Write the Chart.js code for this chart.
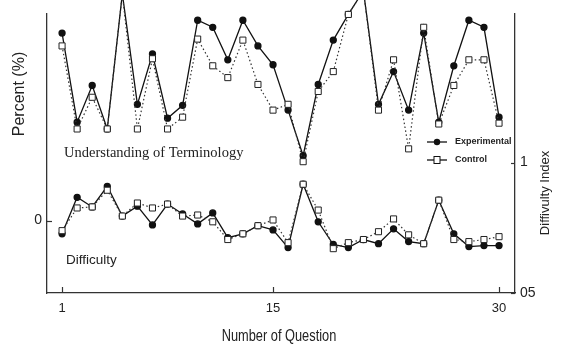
<!DOCTYPE html>
<html>
<head>
<meta charset="utf-8">
<script src="https://cdn.jsdelivr.net/npm/chart.js@4/dist/chart.umd.min.js"></script>
<style>
  body { margin: 0; background: #fff; }
  canvas { display: block; }
</style>
</head>
<body>
<canvas id="chart" width="561" height="345"></canvas>
<script>
"use strict"

// question numbers 1..30
const questions = [1, 2, 3, 4, 5, 6, 7, 8, 9, 10, 11, 12, 13, 14, 15,
  16, 17, 18, 19, 20, 21, 22, 23, 24, 25, 26, 27, 28, 29, 30];

// Understanding of Terminology, percent (left axis)
const termExperimental = [90.5, 47.5, 65.2, 44.2, 109.5, 56.1, 80.4, 49.4, 55.6, 96.7,
  93.3, 77.6, 96.7, 84.3, 75.2, 53.3, 31.3, 65.7, 87.1, 99.5,
  111.0, 56.1, 71.9, 53.3, 90.5, 47.5, 74.7, 96.7, 93.3, 49.9];
const termControl = [84.3, 44.2, 59.5, 44.2, 109.5, 44.2, 78.1, 44.2, 49.9, 87.6,
  74.7, 69.0, 87.1, 65.7, 53.3, 56.1, 28.4, 62.3, 71.9, 99.5,
  111.0, 53.3, 77.6, 34.6, 93.3, 46.6, 65.2, 77.6, 77.6, 47.0];

// Difficulty index (right axis)
const diffExperimental = [0.727, 0.867, 0.830, 0.909, 0.795, 0.833, 0.761, 0.841, 0.803, 0.765,
  0.807, 0.712, 0.727, 0.758, 0.742, 0.674, 0.917, 0.773, 0.686, 0.674,
  0.705, 0.689, 0.746, 0.697, 0.689, 0.856, 0.727, 0.678, 0.682, 0.682];
const diffControl = [0.739, 0.826, 0.830, 0.894, 0.795, 0.845, 0.826, 0.841, 0.795, 0.799,
  0.773, 0.705, 0.727, 0.758, 0.780, 0.693, 0.917, 0.818, 0.670, 0.693,
  0.705, 0.735, 0.784, 0.723, 0.689, 0.856, 0.705, 0.697, 0.705, 0.716];

// tick labels
const xTicks = [1, 15, 30];
const leftTicks = [0];
const rightTicks = [0.5, 1];

const pts = arr => questions.map((q, i) => ({ x: q, y: arr[i] }));

const solid = { borderColor: "#111", borderWidth: 1.3, pointStyle: "circle",
  pointRadius: 3, pointBackgroundColor: "#111", pointBorderColor: "#111", clip: false };
const dotted = { borderColor: "#333", borderWidth: 1.2, borderDash: [1.5, 2.5], pointStyle: "rect",
  pointRadius: 4.3, pointBackgroundColor: "#fff", pointBorderColor: "#222", pointBorderWidth: 1, clip: false };

const data = {
  datasets: [
    { label: "Control", data: pts(termControl), yAxisID: "y", ...dotted },
    { label: "Experimental", data: pts(termExperimental), yAxisID: "y", ...solid },
    { label: "Control difficulty", data: pts(diffControl), yAxisID: "y1", ...dotted },
    { label: "Experimental difficulty", data: pts(diffExperimental), yAxisID: "y1", ...solid },
  ]
};

const sans = "'Liberation Sans', Arial, sans-serif";

// tick marks pointing inward, texts, legend
const overlay = {
  id: "overlay",
  afterDraw(chart) {
    const { ctx, chartArea: a, scales } = chart;
    ctx.save();
    ctx.strokeStyle = "#333";
    ctx.lineWidth = 1.2;
    ctx.setLineDash([]);
    const line = (x1, y1, x2, y2) => { ctx.beginPath(); ctx.moveTo(x1, y1); ctx.lineTo(x2, y2); ctx.stroke(); };
    xTicks.forEach(v => { const px = Math.round(scales.x.getPixelForValue(v)) + 0.5; line(px, a.bottom, px, a.bottom - 6); });
    leftTicks.forEach(v => { const py = Math.round(scales.y.getPixelForValue(v)) + 0.5; line(a.left, py, a.left + 5, py); });
    rightTicks.forEach(v => { const py = Math.round(scales.y1.getPixelForValue(v)) + 0.5; line(a.right, py, a.right - 4, py); });

    ctx.fillStyle = "#222";
    ctx.textBaseline = "middle";
    ctx.textAlign = "center";
    // axis titles
    ctx.font = "16px " + sans;
    ctx.save(); ctx.translate(20, 94); ctx.rotate(-Math.PI / 2); ctx.fillText("Percent (%)", 0, 0); ctx.restore();
    ctx.font = "13px " + sans;
    ctx.save(); ctx.translate(545, 193); ctx.rotate(-Math.PI / 2); ctx.fillText("Diffivulty Index", 0, 0); ctx.restore();
    ctx.font = "16px " + sans;
    ctx.save(); ctx.translate(279, 337); ctx.scale(0.8, 1); ctx.fillText("Number of Question", 0, 0); ctx.restore();

    // group labels
    ctx.textAlign = "left";
    ctx.font = "14.5px 'Liberation Serif', 'Times New Roman', serif";
    ctx.fillText("Understanding of Terminology", 64, 153);
    ctx.font = "13.5px " + sans;
    ctx.fillText("Difficulty", 66, 260);

    // legend
    const lx = 427, ly = 142;
    ctx.strokeStyle = "#111";
    ctx.lineWidth = 1.3;
    line(lx, ly, lx + 20, ly);
    ctx.beginPath(); ctx.arc(lx + 10, ly, 3.2, 0, Math.PI * 2); ctx.fillStyle = "#111"; ctx.fill();
    line(lx, ly + 18, lx + 20, ly + 18);
    ctx.fillStyle = "#fff"; ctx.fillRect(lx + 7, ly + 14.5, 6, 7);
    ctx.lineWidth = 1; ctx.strokeRect(lx + 7, ly + 14.5, 6, 7);
    ctx.fillStyle = "#222";
    ctx.font = "bold 9px " + sans;
    ctx.fillText("Experimental", lx + 28, ly);
    ctx.fillText("Control", lx + 28, ly + 18);
    ctx.restore();
  }
};

const config = {
  type: "line",
  data: data,
  options: {
    responsive: false,
    animation: false,
    layout: { padding: { top: 10, left: 0, right: 0, bottom: 0 } },
    plugins: { legend: { display: false }, tooltip: { enabled: false } },
    scales: {
      x: {
        type: "linear", min: 0, max: 31.06,
        afterBuildTicks: s => { s.ticks = xTicks.map(v => ({ value: v })); },
        afterFit: s => { s.height = 52; },
        grid: { display: false, drawTicks: false },
        border: { display: true, color: "#333", width: 1.3 },
        ticks: { padding: 8, color: "#222", font: { family: sans, size: 13 } }
      },
      y: {
        position: "left", min: -35, max: 100,
        afterBuildTicks: s => { s.ticks = leftTicks.map(v => ({ value: v })); },
        afterFit: s => { s.width = 47; },
        grid: { display: false, drawTicks: false },
        border: { display: true, color: "#333", width: 1.3 },
        ticks: { padding: 5, color: "#222", font: { family: sans, size: 14 } }
      },
      y1: {
        position: "right", min: 0.5, max: 1.572,
        afterBuildTicks: s => { s.ticks = rightTicks.map(v => ({ value: v })); },
        afterFit: s => { s.width = 46; },
        grid: { display: false, drawTicks: false },
        border: { display: true, color: "#333", width: 1.3 },
        ticks: { padding: 5, color: "#222", font: { family: sans, size: 14 },
          callback: v => (v === 0.5 ? "05" : String(v)) }
      }
    }
  },
  plugins: [overlay]
};

const canvas = document.querySelector("#chart");
const chart = new Chart(canvas, config);
</script>
</body>
</html>
